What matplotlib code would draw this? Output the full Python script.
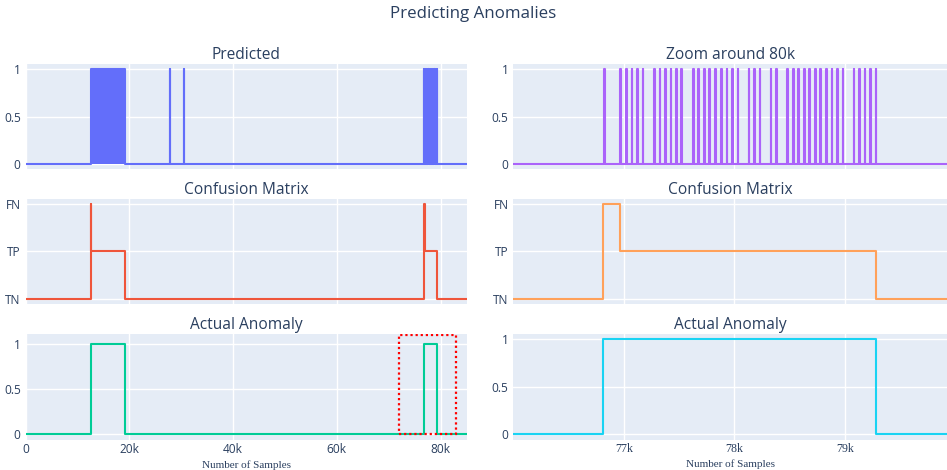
import matplotlib
matplotlib.use("Agg")
import matplotlib.pyplot as plt
from matplotlib.patches import Rectangle

# ---------------- data ----------------
# predicted anomaly blocks in the overview (start, end) in samples
pred_block_starts = [12600]
pred_block_ends = [19100]
# isolated predicted spikes in the overview
pred_spikes_overview = [27760, 30460]
# predicted spikes around 80k
pred_spikes_zoom = [76820, 76970, 77020, 77070, 77120, 77170, 77275, 77325, 77375,
                    77425, 77475, 77520, 77625, 77675, 77725, 77775, 77825, 77880,
                    77930, 77980, 78030, 78130, 78180, 78230, 78330, 78380, 78480,
                    78530, 78580, 78630, 78680, 78730, 78780, 78830, 78880, 78930,
                    78980, 79080, 79130, 79180, 79230, 79280]
spike_width = 6

# actual anomalies
anomaly_starts = [12530, 76814]
anomaly_ends = [19084, 79283]

# confusion matrix state change points
cm_x = [0, 12530, 12650, 19084, 76814, 76970, 79283]
cm_state = ["TN", "FN", "TP", "TN", "FN", "TP", "TN"]
cm_categories = ["TN", "TP", "FN"]

n_samples = 85100
zoom_range = (76000, 79925)
highlight_x = (72000, 83000)
highlight_y = (0, 1.1)

overview_ticks = [0, 20000, 40000, 60000, 80000]
overview_ticklabels = ["0", "20k", "40k", "60k", "80k"]
zoom_ticks = [77000, 78000, 79000]
zoom_ticklabels = ["77k", "78k", "79k"]

# ---------------- helpers ----------------
def pulses_to_step(starts, ends, xmax):
    xs, ys = [0], [0]
    for s, e in sorted(zip(starts, ends)):
        xs += [s, s, e, e]
        ys += [0, 1, 1, 0]
    xs.append(xmax)
    ys.append(0)
    return xs, ys

def states_to_step(xpts, states, xmax):
    idx = {c: i for i, c in enumerate(cm_categories)}
    xs, ys = [], []
    for i, (x, st) in enumerate(zip(xpts, states)):
        nxt = xpts[i + 1] if i + 1 < len(xpts) else xmax
        xs += [x, nxt]
        ys += [idx[st], idx[st]]
    return xs, ys

# ---------------- style ----------------
BG = "#E5ECF6"
TXT = "#2a3f5f"
SANS = ["Open Sans", "DejaVu Sans"]
SERIF = ["Liberation Serif", "DejaVu Serif"]
plt.rcParams["font.family"] = SANS

W, H = 947, 470
fig = plt.figure(figsize=(W / 100, H / 100), dpi=100)

cols = [(25.5, 467.0), (513.3, 947.0)]
rows = [(64.0, 169.5), (199.3, 303.5), (334.0, 439.5)]

def make_ax(r, c):
    x0, x1 = cols[c]
    y0, y1 = rows[r]
    ax = fig.add_axes([x0 / W, 1 - y1 / H, (x1 - x0) / W, (y1 - y0) / H])
    ax.set_facecolor(BG)
    for s in ax.spines.values():
        s.set_visible(False)
    ax.tick_params(length=0, labelsize=8.6, colors=TXT, pad=3.5)
    ax.grid(True, color="white", lw=1.0)
    ax.set_axisbelow(True)
    return ax

titles = [["Predicted", "Zoom around 80k"],
          ["Confusion Matrix", "Confusion Matrix"],
          ["Actual Anomaly", "Actual Anomaly"]]
colors = [["#636EFA", "#AB63FA"], ["#EF553B", "#FFA15A"], ["#00CC96", "#19D3F3"]]

all_pred_starts = pred_block_starts + pred_spikes_overview + pred_spikes_zoom
all_pred_ends = pred_block_ends + [s + 20 for s in pred_spikes_overview] + \
    [s + spike_width for s in pred_spikes_zoom]

for r in range(3):
    for c in range(2):
        ax = make_ax(r, c)
        col = colors[r][c]
        if r == 0:
            if c == 0:
                xs, ys = pulses_to_step(all_pred_starts, all_pred_ends, n_samples)
                ax.fill_between(xs, 0, ys, color=col, lw=0)
            else:
                xs, ys = pulses_to_step(pred_spikes_zoom,
                                        [s + spike_width for s in pred_spikes_zoom],
                                        n_samples)
            ax.plot(xs, ys, color=col, lw=1.5)
            ax.set_ylim(-0.0556, 1.0556)
            ax.set_yticks([0, 0.5, 1])
            ax.set_yticklabels(["0", "0.5", "1"])
        elif r == 1:
            xs, ys = states_to_step(cm_x, cm_state, n_samples)
            ax.plot(xs, ys, color=col, lw=1.5)
            ax.set_ylim(-0.1, 2.1)
            ax.set_yticks([0, 1, 2])
            ax.set_yticklabels(cm_categories)
        else:
            xs, ys = pulses_to_step(anomaly_starts, anomaly_ends, n_samples)
            ax.plot(xs, ys, color=col, lw=1.5)
            ax.set_yticks([0, 0.5, 1])
            ax.set_yticklabels(["0", "0.5", "1"])
            if c == 0:
                ax.set_ylim(-0.06, 1.115)
                ax.add_patch(Rectangle((highlight_x[0], highlight_y[0]),
                                       highlight_x[1] - highlight_x[0],
                                       highlight_y[1] - highlight_y[0],
                                       fill=False, ec="red", lw=1.6,
                                       ls=(0, (1, 1.3)), zorder=5))
            else:
                ax.set_ylim(-0.056, 1.056)
        if c == 0:
            ax.set_xlim(0, n_samples)
            ax.set_xticks(overview_ticks)
        else:
            ax.set_xlim(*zoom_range)
            ax.set_xticks(zoom_ticks)
        if r == 2:
            if c == 0:
                ax.set_xticklabels(overview_ticklabels)
            else:
                ax.set_xticklabels(zoom_ticklabels, family=SERIF, fontsize=8.6)
            ax.tick_params(axis="x", pad=2.5)
            ax.set_xlabel("Number of Samples", family=SERIF, fontsize=8.0,
                          color=TXT, labelpad=3)
        else:
            ax.set_xticklabels([])
        ax.set_title(titles[r][c], fontsize=11.2, color=TXT, pad=3.5)

fig.text(0.5, 1 - 14 / H, "Predicting Anomalies", ha="center", va="center",
         fontsize=12.2, color=TXT)

fig.savefig("out.png", dpi=100)
